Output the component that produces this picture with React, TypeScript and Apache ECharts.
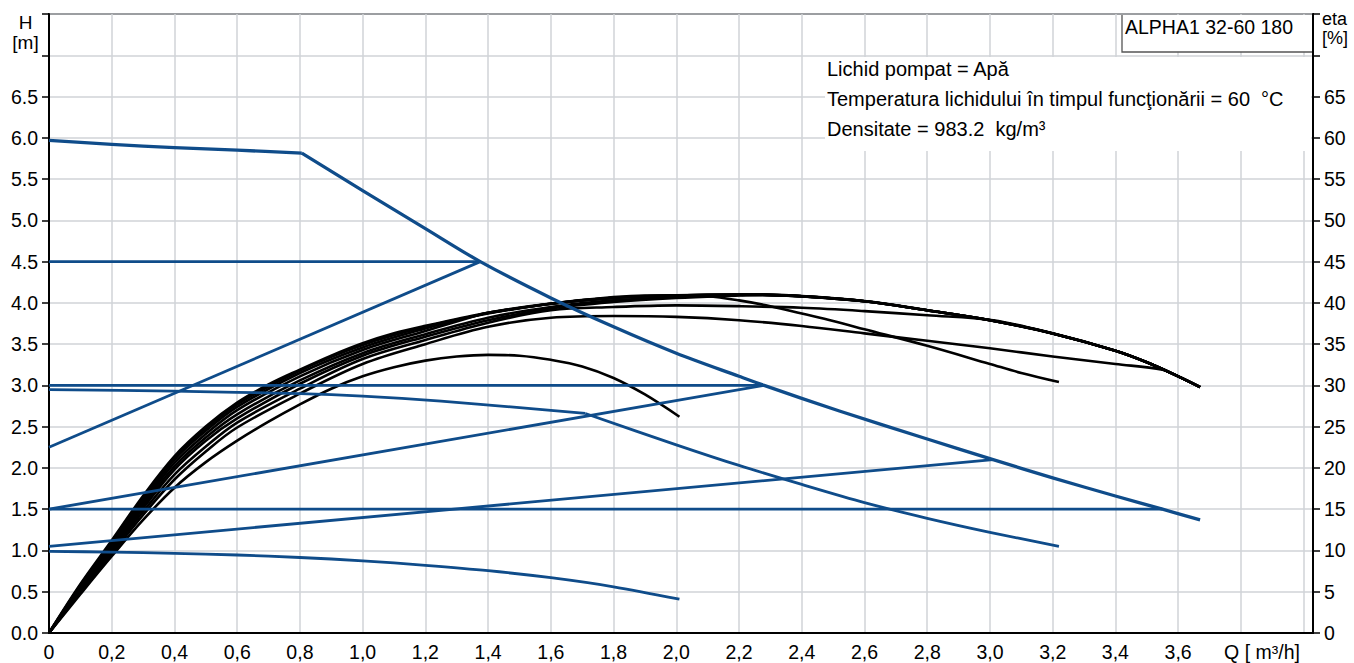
import React, { useEffect, useRef } from "react";
import * as echarts from "echarts";

// ---- Axis ranges / ticks ----
const qMin = 0;
const qMax = 4.03;
const qStep = 0.2;
const qLastLabel = 3.6;
const hMax = 7.5;
const hStep = 0.5;
const hLastLabel = 6.5;
const etaMax = 75;
const etaStep = 5;
const etaLastLabel = 65;

// ---- Head curves H [m] vs Q [m3/h] ----
const maxCurve = [
  [0, 5.97], [0.2, 5.92], [0.4, 5.88], [0.6, 5.85], [0.806, 5.815], [1.0, 5.36], [1.2, 4.9],
  [1.375, 4.5], [1.6, 4.06], [1.8, 3.71], [2.0, 3.39], [2.2, 3.11], [2.28, 3.0], [2.52, 2.69],
  [2.8, 2.35], [3.01, 2.1], [3.2, 1.88], [3.4, 1.66], [3.55, 1.5], [3.67, 1.37],
];
const maxCurveKnee = 0.806;
const speed2Curve = [
  [0, 2.95], [0.4, 2.93], [0.8, 2.9], [1.0, 2.87], [1.25, 2.81], [1.5, 2.73], [1.71, 2.66],
  [2.0, 2.28], [2.2, 2.03], [2.4, 1.8], [2.6, 1.58], [2.8, 1.39], [3.0, 1.22], [3.22, 1.05],
];
const speed2Knee = 1.71;
const speed1Curve = [
  [0, 0.99], [0.2, 0.98], [0.4, 0.965], [0.6, 0.945], [0.8, 0.915], [1.0, 0.875], [1.2, 0.82],
  [1.4, 0.755], [1.6, 0.67], [1.8, 0.56], [2.01, 0.41],
];
const cp45 = [[0, 4.5], [1.375, 4.5]];
const cp30 = [[0, 3.0], [2.28, 3.0]];
const cp15 = [[0, 1.5], [3.55, 1.5]];
const ppHigh = [[0, 2.25], [1.375, 4.5]];
const ppMid = [[0, 1.5], [2.28, 3.0]];
const ppLow = [[0, 1.05], [3.01, 2.1]];

// ---- Efficiency curves eta [%] vs Q ----
const etaMaxCurve = [
  [0, 0], [0.1, 5.9], [0.2, 11.2], [0.3, 16.6], [0.4, 21.4], [0.5, 25.0], [0.6, 27.9], [0.7, 30.1],
  [0.8, 31.9], [0.9, 33.6], [1.0, 35.1], [1.1, 36.3], [1.2, 37.2], [1.4, 38.8], [1.6, 39.9],
  [1.8, 40.6], [2.0, 40.9], [2.2, 41.0], [2.4, 40.8], [2.6, 40.2], [2.8, 39.1], [3.0, 37.9],
  [3.2, 36.3], [3.4, 34.2], [3.5, 32.8], [3.6, 31.1], [3.67, 29.8],
];
const etaSpeed2 = [
  [0, 0], [0.1, 5.8], [0.2, 11.0], [0.3, 16.3], [0.4, 21.2], [0.5, 24.8], [0.6, 27.7], [0.8, 31.8],
  [1.0, 34.9], [1.2, 37.1], [1.4, 38.7], [1.6, 39.9], [1.8, 40.7], [1.9, 40.9], [2.0, 40.9],
  [2.1, 40.8], [2.2, 40.3], [2.3, 39.6], [2.4, 38.7], [2.5, 37.8], [2.6, 36.8], [2.8, 34.8],
  [3.0, 32.6], [3.1, 31.5], [3.22, 30.4],
];
const etaSpeed1 = [
  [0, 0], [0.1, 4.7], [0.2, 9.3], [0.3, 13.7], [0.4, 17.6], [0.5, 20.7], [0.6, 23.3], [0.7, 25.6],
  [0.8, 27.7], [0.9, 29.6], [1.0, 31.1], [1.1, 32.2], [1.2, 33.0], [1.3, 33.5], [1.4, 33.7],
  [1.5, 33.6], [1.6, 33.1], [1.7, 32.3], [1.8, 30.9], [1.9, 28.9], [2.01, 26.2],
];
const etaCp15 = [
  [0, 0], [0.1, 4.9], [0.2, 9.6], [0.3, 14.3], [0.4, 18.6], [0.5, 22.0], [0.6, 24.9], [0.8, 29.0],
  [1.0, 32.6], [1.2, 35.0], [1.4, 37.1], [1.6, 38.2], [1.8, 38.4], [2.0, 38.3], [2.2, 37.9],
  [2.4, 37.2], [2.6, 36.3], [2.8, 35.4], [3.0, 34.5], [3.2, 33.5], [3.4, 32.6], [3.55, 31.9],
];
const etaPpLow = [
  [0, 0], [0.1, 5.0], [0.2, 9.9], [0.3, 14.7], [0.4, 19.2], [0.5, 22.6], [0.6, 25.5], [0.8, 29.6],
  [1.0, 33.2], [1.2, 35.5], [1.4, 37.6], [1.6, 39.1], [1.8, 39.5], [2.0, 39.7], [2.2, 39.6],
  [2.4, 39.4], [2.6, 39.0], [2.8, 38.5], [3.01, 37.9],
];
const etaCp45 = [
  [0, 0], [0.1, 5.7], [0.2, 10.9], [0.3, 16.0], [0.4, 21.0], [0.5, 24.5], [0.6, 27.4], [0.8, 31.5],
  [1.0, 34.6], [1.2, 36.9], [1.375, 38.6],
];
const etaPpHigh = [
  [0, 0], [0.1, 5.6], [0.2, 10.7], [0.3, 15.7], [0.4, 20.6], [0.5, 24.1], [0.6, 27.0], [0.8, 31.1],
  [1.0, 34.3], [1.2, 36.6], [1.375, 38.6],
];
const etaCp30 = [
  [0, 0], [0.1, 5.4], [0.2, 10.4], [0.3, 15.4], [0.4, 20.2], [0.5, 23.7], [0.6, 26.5], [0.8, 30.6],
  [1.0, 33.9], [1.2, 36.2], [1.4, 38.2], [1.6, 39.5], [1.8, 40.3], [2.0, 40.7], [2.2, 40.95],
  [2.28, 41.0],
];
const etaPpMid = [
  [0, 0], [0.1, 5.3], [0.2, 10.2], [0.3, 15.1], [0.4, 19.8], [0.5, 23.3], [0.6, 26.0], [0.8, 30.2],
  [1.0, 33.6], [1.2, 35.9], [1.4, 37.9], [1.6, 39.3], [1.8, 40.1], [2.0, 40.6], [2.2, 40.9],
  [2.28, 41.0],
];

// ---- Texts ----
const productName = "ALPHA1 32-60 180";
const infoLines = [
  "Lichid pompat = Apă",
  "Temperatura lichidului în timpul funcţionării = 60  °C",
  "Densitate = 983.2  kg/m³",
];
const leftAxisName = ["H", "[m]"];
const rightAxisName = ["eta", "[%]"];
const xAxisName = "Q [ m³/h]";

const BLUE = "#0f4c8a";
const FONT = '"Liberation Sans", Arial, Helvetica, sans-serif';

function withMaxTail(points: number[][]) {
  const lastQ = points[points.length - 1][0];
  return points.concat(etaMaxCurve.filter((p) => p[0] > lastQ + 1e-6));
}
function upTo(points: number[][], q: number) {
  return points.filter((p) => p[0] <= q + 1e-9);
}
function from(points: number[][], q: number) {
  return points.filter((p) => p[0] >= q - 1e-9);
}

function lineSeries(data: number[][], color: string, width: number, yAxisIndex: number, smooth: number | boolean) {
  return {
    type: "line",
    data,
    yAxisIndex,
    symbol: "none",
    showSymbol: false,
    smooth,
    silent: true,
    lineStyle: { color, width, cap: "butt", join: "round" },
    emphasis: { disabled: true },
  };
}

export default function App() {
  const ref = useRef<HTMLDivElement>(null);

  useEffect(() => {
    if (!ref.current) return;
    const chart = echarts.init(ref.current, null, { renderer: "svg" });

    const S = 0.35;
    const BW = 2.6;
    const etaSeries = [
      lineSeries(etaSpeed1, "#000", BW, 1, S),
      lineSeries(withMaxTail(etaCp15), "#000", BW, 1, S),
      lineSeries(withMaxTail(etaPpLow), "#000", BW, 1, S),
      lineSeries(etaSpeed2, "#000", BW, 1, S),
      lineSeries(withMaxTail(etaCp30), "#000", BW, 1, S),
      lineSeries(withMaxTail(etaPpMid), "#000", BW, 1, S),
      lineSeries(withMaxTail(etaCp45), "#000", BW, 1, S),
      lineSeries(withMaxTail(etaPpHigh), "#000", BW, 1, S),
      lineSeries(etaMaxCurve, "#000", 2.8, 1, S),
    ];
    const LW = 2.8;
    const headSeries = [
      lineSeries(speed1Curve, BLUE, LW, 0, 0.3),
      lineSeries(upTo(speed2Curve, speed2Knee), BLUE, LW, 0, 0.3),
      lineSeries(from(speed2Curve, speed2Knee), BLUE, LW, 0, 0.3),
      lineSeries(cp45, BLUE, LW, 0, false),
      lineSeries(cp30, BLUE, LW, 0, false),
      lineSeries(cp15, BLUE, LW, 0, false),
      lineSeries(ppHigh, BLUE, LW, 0, false),
      lineSeries(ppMid, BLUE, LW, 0, false),
      lineSeries(ppLow, BLUE, LW, 0, false),
      lineSeries(upTo(maxCurve, maxCurveKnee), BLUE, 3.3, 0, 0.3),
      lineSeries(from(maxCurve, maxCurveKnee), BLUE, 3.3, 0, 0.3),
    ];

    const textEl = (text: string, x: number, y: number, align: string, size = 19) => ({
      type: "text",
      z: 100,
      silent: true,
      x,
      y,
      style: {
        text,
        fill: "#000",
        font: `${size}px ${FONT}`,
        fontSize: size,
        fontFamily: FONT,
        textAlign: align,
        textVerticalAlign: "middle",
        align,
        verticalAlign: "middle",
      },
    });

    const option: any = {
      animation: false,
      backgroundColor: "#fff",
      grid: {
        left: 49,
        right: 41,
        top: 14,
        bottom: 30,
        show: true,
        borderColor: "#000",
        borderWidth: 2,
        backgroundColor: "transparent",
        containLabel: false,
        outerBoundsMode: "none",
      },
      xAxis: {
        type: "value",
        min: qMin,
        max: qMax,
        interval: qStep,
        axisLine: { show: true, onZero: false, lineStyle: { color: "#000", width: 2 } },
        axisTick: { show: false },
        axisLabel: {
          color: "#000",
          fontSize: 19.5,
          fontFamily: FONT,
          margin: 9,
          showMaxLabel: false,
          formatter: (v: number) => {
            if (v > qLastLabel + 0.05) return "";
            if (Math.abs(v) < 1e-9) return "0";
            return v.toFixed(1).replace(".", ",");
          },
        },
        splitLine: { show: true, lineStyle: { color: "#d0d3d7", width: 1.5 } },
      },
      yAxis: [
        {
          type: "value",
          position: "left",
          min: 0,
          max: hMax,
          interval: hStep,
          axisLine: { show: true, onZero: false, lineStyle: { color: "#000", width: 2 } },
          axisTick: { show: true, inside: false, length: 7, lineStyle: { color: "#000", width: 1.5 } },
          axisLabel: {
            color: "#000",
            fontSize: 19.5,
            fontFamily: FONT,
            margin: 11,
            formatter: (v: number) => (v > hLastLabel + 0.01 ? "" : v.toFixed(1)),
          },
          splitLine: { show: true, lineStyle: { color: "#d0d3d7", width: 1.5 } },
        },
        {
          type: "value",
          position: "right",
          min: 0,
          max: etaMax,
          interval: etaStep,
          axisLine: { show: true, onZero: false, lineStyle: { color: "#000", width: 2 } },
          axisTick: { show: true, inside: false, length: 7, lineStyle: { color: "#000", width: 1.5 } },
          axisLabel: {
            color: "#000",
            fontSize: 19.5,
            fontFamily: FONT,
            margin: 11,
            formatter: (v: number) => (v > etaLastLabel + 0.1 ? "" : String(Math.round(v))),
          },
          splitLine: { show: false },
        },
      ],
      graphic: [
        { type: "rect", z: 99, silent: true, shape: { x: 825, y: 57, width: 486, height: 94 }, style: { fill: "#fff" } },
        { type: "rect", z: 99, silent: true, shape: { x: 1122, y: 15, width: 190, height: 37 }, style: { fill: "#fff" } },
        {
          type: "polyline",
          z: 100,
          silent: true,
          shape: { points: [[1122, 15], [1122, 52], [1312, 52]] },
          style: { stroke: "#555", lineWidth: 1.3, fill: null },
        },
        textEl(productName, 1125, 26.5, "left", 19.5),
        textEl(infoLines[0], 827, 68.5, "left", 20),
        textEl(infoLines[1], 827, 98.5, "left", 20),
        textEl(infoLines[2], 827, 128.5, "left", 20),
        textEl(leftAxisName[0], 25.5, 22, "center", 19),
        textEl(leftAxisName[1], 25.5, 42, "center", 19),
        textEl(rightAxisName[0], 1322, 19, "left", 18),
        textEl(rightAxisName[1], 1322, 38, "left", 18),
        textEl(xAxisName, 1262, 651.5, "center", 19.5),
      ],
      series: [...etaSeries, ...headSeries],
    };

    chart.setOption(option);
    return () => chart.dispose();
  }, []);

  return (
    <div
      ref={ref}
      style={{ position: "fixed", left: 0, top: 0, width: "1354px", height: "663px", background: "#fff" }}
    />
  );
}
